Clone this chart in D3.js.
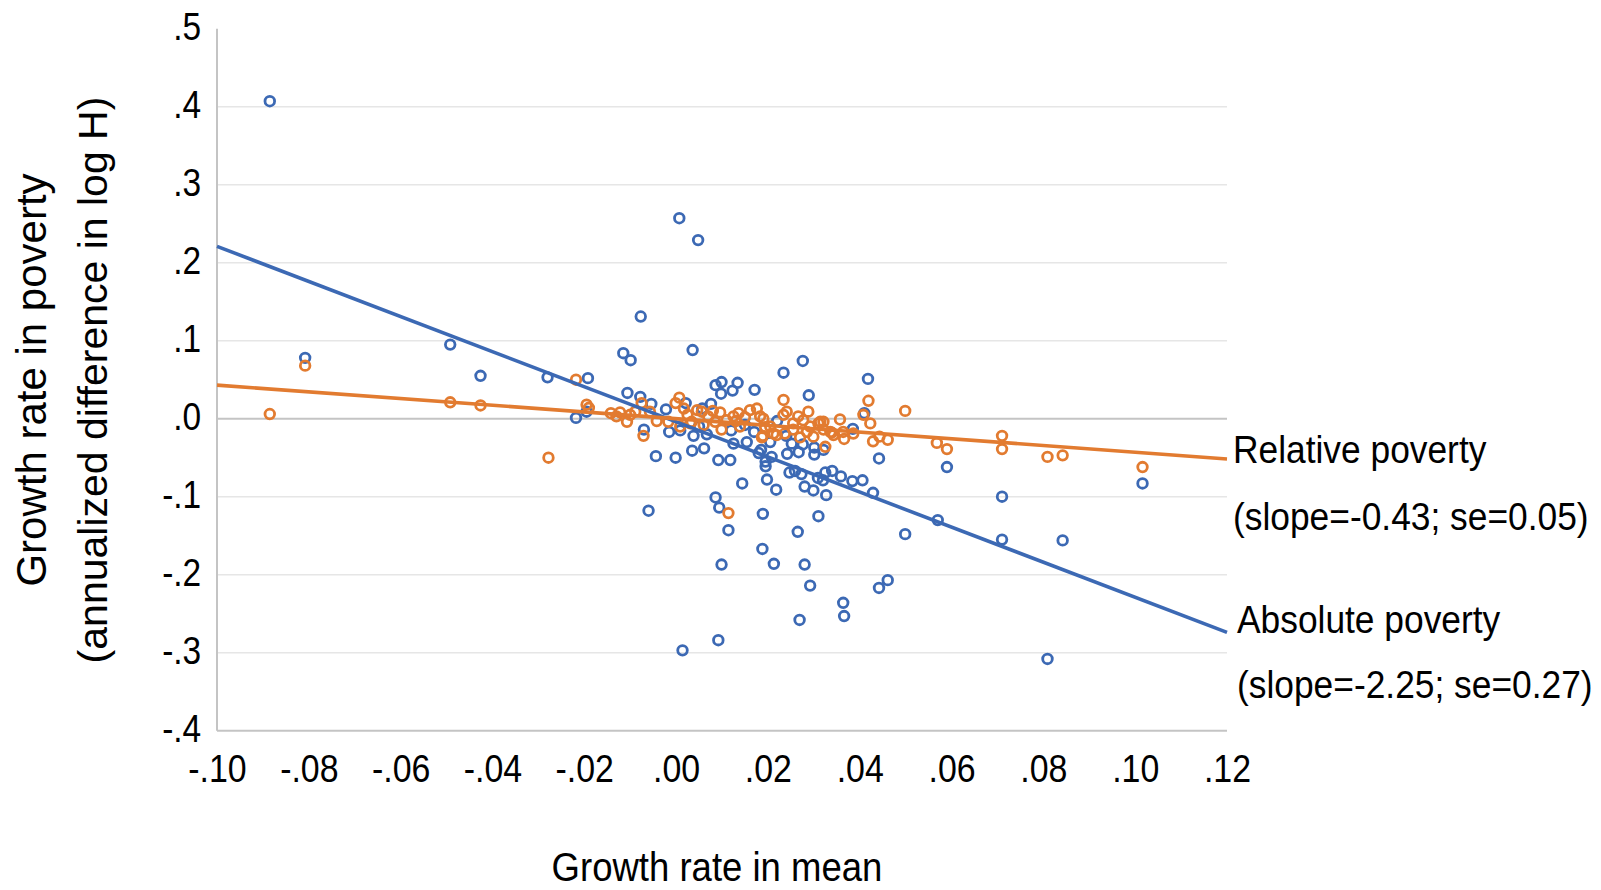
<!DOCTYPE html>
<html>
<head>
<meta charset="utf-8">
<script src="https://cdn.jsdelivr.net/npm/d3@7/dist/d3.min.js"></script>
<style>
  body { margin: 0; background: #fff; }
  svg { display: block; }
</style>
</head>
<body>
<div id="chart"></div>
<script>
// tick values and labels
const xTicks = [-0.10, -0.08, -0.06, -0.04, -0.02, 0.00, 0.02, 0.04, 0.06, 0.08, 0.10, 0.12]
const xTickLabels = ['-.10', '-.08', '-.06', '-.04', '-.02', '.00', '.02', '.04', '.06', '.08', '.10', '.12']
const yTicks = [0.5, 0.4, 0.3, 0.2, 0.1, 0.0, -0.1, -0.2, -0.3, -0.4]
const yTickLabels = ['.5', '.4', '.3', '.2', '.1', '.0', '-.1', '-.2', '-.3', '-.4']

// absolute poverty: [growth in mean, growth in poverty]
const absolutePts = [
  [-0.0885, 0.407], [-0.0808, 0.078], [-0.0492, 0.095], [-0.0426, 0.055], [-0.028, 0.053],
  [-0.0218, 0.001], [-0.0195, 0.009], [-0.0192, 0.052], [0.0007, 0.257], [0.0048, 0.229],
  [-0.0077, 0.131], [-0.0115, 0.084], [-0.0099, 0.075], [0.0036, 0.088], [0.0276, 0.074],
  [-0.0106, 0.033], [-0.0078, 0.028], [-0.0054, 0.019], [-0.0022, 0.012], [-0.007, -0.014],
  [-0.0015, -0.017], [0.0009, -0.015], [0.0038, -0.022], [0.0061, -0.038], [0.0035, -0.041],
  [-0.0044, -0.048], [-0.0001, -0.050], [0.0092, -0.053], [0.0118, -0.053], [0.0076, 0.019],
  [0.0057, 0.013], [0.0086, 0.043], [0.0099, 0.047], [0.0098, 0.032], [0.0123, 0.036],
  [0.0134, 0.046], [0.0171, 0.037], [0.0234, 0.059], [0.0289, 0.030], [0.0418, 0.051],
  [0.0125, -0.032], [0.0154, -0.030], [0.017, -0.017], [0.018, -0.044], [0.0185, -0.040],
  [0.0205, -0.030], [0.0195, -0.055], [0.0195, -0.061], [0.0208, -0.049], [0.0242, -0.045],
  [0.024, -0.022], [0.0252, -0.032], [0.0267, -0.043], [0.0276, -0.033], [0.0301, -0.037],
  [0.0301, -0.046], [0.0321, -0.040], [0.0198, -0.078], [0.0144, -0.083], [0.0218, -0.091],
  [0.0247, -0.069], [0.0259, -0.067], [0.0273, -0.071], [0.028, -0.087], [0.0299, -0.092],
  [0.0309, -0.076], [0.032, -0.079], [0.0325, -0.069], [0.034, -0.067], [0.0327, -0.098],
  [0.0359, -0.074], [0.0384, -0.080], [0.0406, -0.079], [0.0429, -0.095], [0.0442, -0.051],
  [0.0385, -0.013], [0.041, 0.007], [0.0086, -0.101], [0.0094, -0.114], [-0.006, -0.118],
  [0.0189, -0.122], [0.031, -0.125], [0.0021, 0.020], [0.0067, -0.020], [0.059, -0.062],
  [0.071, -0.100], [0.071, -0.155], [0.0842, -0.156], [0.0809, -0.308], [0.1016, -0.083],
  [0.057, -0.130], [0.0499, -0.148], [0.0114, -0.143], [0.0099, -0.187], [0.0188, -0.167],
  [0.0213, -0.186], [0.0265, -0.145], [0.028, -0.187], [0.0292, -0.214], [0.0364, -0.236],
  [0.0366, -0.253], [0.0269, -0.258], [0.0461, -0.207], [0.0442, -0.217], [0.0092, -0.284],
  [0.0014, -0.297], [0.005, -0.010], [0.012, -0.015], [0.015, -0.008], [0.022, -0.003]
]

// relative poverty
const relativePts = [
  [-0.0885, 0.006], [-0.0808, 0.068], [-0.0492, 0.021], [-0.0426, 0.017], [-0.0278, -0.050],
  [-0.0218, 0.050], [-0.0195, 0.018], [-0.019, 0.014], [-0.0142, 0.007], [-0.0122, 0.008],
  [-0.0107, -0.004], [-0.010, 0.005], [-0.0089, 0.009], [-0.0075, 0.020], [-0.0071, -0.022],
  [-0.0057, 0.009], [-0.0042, -0.003], [-0.0017, -0.004], [0.0007, 0.027], [-0.0001, 0.020],
  [0.0017, 0.013], [0.0046, 0.011], [0.0034, -0.004], [0.0009, -0.010], [0.0031, -0.006],
  [0.0056, 0.009], [0.007, 0.003], [0.0085, -0.004], [0.0096, 0.008], [0.0099, -0.014],
  [0.011, -0.002], [0.0125, 0.003], [0.0136, 0.007], [0.0139, -0.010], [0.0161, 0.011],
  [0.0176, 0.013], [0.0183, 0.003], [0.0189, -0.022], [0.0205, -0.010], [0.0212, -0.019],
  [0.0219, -0.021], [0.0234, 0.024], [0.0234, 0.005], [0.0241, 0.009], [0.0255, -0.006],
  [0.0266, 0.003], [0.0277, -0.002], [0.0288, 0.009], [0.0292, -0.010], [0.0299, -0.023],
  [0.031, -0.006], [0.0321, -0.004], [0.0325, -0.036], [0.0336, -0.017], [0.0343, -0.021],
  [0.0357, -0.001], [0.0366, -0.026], [0.0386, -0.019], [0.0408, 0.005], [0.0419, 0.023],
  [0.0423, -0.006], [0.0429, -0.029], [0.0443, -0.023], [0.0461, -0.027], [0.0499, 0.010],
  [0.0114, -0.121], [0.0568, -0.031], [0.059, -0.039], [0.071, -0.022], [0.071, -0.039],
  [0.0809, -0.049], [0.0842, -0.047], [0.1016, -0.062], [0.019, 0.000], [0.0194, -0.011],
  [0.0187, -0.024], [0.0237, -0.019], [0.0255, -0.014], [0.027, -0.024], [0.0285, -0.017],
  [0.0321, -0.014], [0.0339, -0.018], [0.0364, -0.017], [0.0314, -0.004], [-0.013, 0.003],
  [0.0025, 0.005], [0.006, -0.008], [0.008, 0.010], [0.013, -0.003], [0.015, 0.002]
]

// fitted lines: [slope, intercept]
const absoluteFit = [-2.25, -0.004]
const relativeFit = [-0.43, 0.0]
const labelLines = [
  ['Relative poverty', '(slope=-0.43; se=0.05)'],
  ['Absolute poverty', '(slope=-2.25; se=0.27)']
]

const W = 1601, H = 890
const blue = '#3c69b4', orange = '#e27b30'
const font = '"Liberation Sans", Arial, sans-serif'
const squeeze = 'scale(0.88,1)' // the source text is horizontally narrow

let x = d3.scaleLinear().domain([-0.10, 0.12]).range([217, 1227])
let y = d3.scaleLinear().domain([-0.4, 0.5]).range([730.7, 28.7])

let svg = d3.select('#chart').append('svg')
  .attr('width', W)
  .attr('height', H)
  .style('font-family', font)

// gridlines
svg.append('g')
  .selectAll('line')
  .data(yTicks.filter(d => d < 0.45 && d > -0.35 && d !== 0))
  .enter()
  .append('line')
  .attr('x1', x.range()[0])
  .attr('x2', x.range()[1])
  .attr('y1', d => y(d))
  .attr('y2', d => y(d))
  .attr('stroke', '#e6e6e6')
  .attr('stroke-width', 1.5)

// horizontal axis lines at 0 and bottom
svg.append('g')
  .selectAll('line')
  .data([0, -0.4])
  .enter()
  .append('line')
  .attr('x1', x.range()[0])
  .attr('x2', x.range()[1])
  .attr('y1', d => y(d))
  .attr('y2', d => y(d))
  .attr('stroke', '#c4c4c4')
  .attr('stroke-width', 2)

// vertical axis line
svg.append('line')
  .attr('x1', x(-0.10)).attr('x2', x(-0.10))
  .attr('y1', y(0.5)).attr('y2', y(-0.4))
  .attr('stroke', '#c4c4c4')
  .attr('stroke-width', 2)

// axes labels
let yAxis = svg.append('g')
  .attr('transform', `translate(${x(-0.10)},0)`)
  .call(d3.axisLeft(y).tickValues(yTicks).tickSize(0).tickPadding(18)
    .tickFormat((d, i) => yTickLabels[i]))
yAxis.select('.domain').remove()
yAxis.selectAll('text')
  .attr('dy', '0.28em')
  .attr('transform', squeeze)
  .style('font-family', font)
  .style('font-size', '38px')
  .style('fill', '#000')

let xAxis = svg.append('g')
  .attr('transform', `translate(0,${y(-0.4)})`)
  .call(d3.axisBottom(x).tickValues(xTicks).tickSize(0).tickPadding(24)
    .tickFormat((d, i) => xTickLabels[i]))
xAxis.select('.domain').remove()
xAxis.selectAll('text')
  .attr('transform', squeeze)
  .style('font-family', font)
  .style('font-size', '38.5px')
  .style('fill', '#000')

// points
function drawPts (pts, color) {
  svg.append('g')
    .selectAll('circle')
    .data(pts)
    .enter()
    .append('circle')
    .attr('cx', d => x(d[0]))
    .attr('cy', d => y(d[1]))
    .attr('r', 4.8)
    .attr('fill', 'none')
    .attr('stroke', color)
    .attr('stroke-width', 2.8)
}
drawPts(absolutePts, blue)
drawPts(relativePts, orange)

// trend lines
function drawFit (fit, color) {
  let dom = x.domain()
  svg.append('line')
    .attr('x1', x(dom[0]))
    .attr('y1', y(fit[0] * dom[0] + fit[1]))
    .attr('x2', x(dom[1]))
    .attr('y2', y(fit[0] * dom[1] + fit[1]))
    .attr('stroke', color)
    .attr('stroke-width', 3.6)
}
drawFit(absoluteFit, blue)
drawFit(relativeFit, orange)

// line annotations
let notePos = [[1233, 463, 530], [1237, 633, 698]]
labelLines.forEach((lines, k) => {
  lines.forEach((t, j) => {
    svg.append('text')
      .attr('transform', `translate(${notePos[k][0]},${notePos[k][j + 1]}) scale(0.895,1)`)
      .style('font-size', '39.5px')
      .text(t)
  })
})

// axis titles
svg.append('text')
  .attr('transform', `translate(717,881) ${squeeze}`)
  .attr('text-anchor', 'middle')
  .style('font-size', '41.5px')
  .text('Growth rate in mean')

let yTitle = svg.append('g')
  .attr('transform', 'translate(0,380) rotate(-90)')
yTitle.append('text')
  .attr('x', 0)
  .attr('y', 46)
  .attr('text-anchor', 'middle')
  .style('font-size', '42px')
  .text('Growth rate in poverty')
yTitle.append('text')
  .attr('x', 0)
  .attr('y', 107)
  .attr('text-anchor', 'middle')
  .style('font-size', '41px')
  .text('(annualized difference in log H)')
</script>
</body>
</html>
